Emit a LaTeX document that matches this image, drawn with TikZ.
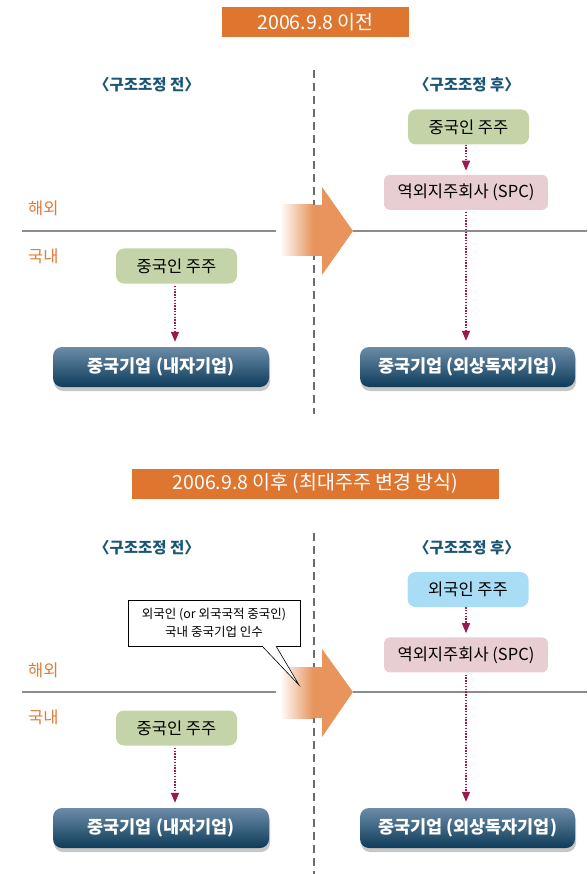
\documentclass[tikz,border=0pt]{standalone}
\usepackage{fontspec}
\setmainfont{Noto Sans CJK KR}
\usepackage{xcolor}
\usepackage{tikz}
\usetikzlibrary{arrows.meta,positioning,shadows}

\definecolor{titleor}{RGB}{222,118,48}
\definecolor{arrowor}{RGB}{232,148,92}
\definecolor{headblue}{RGB}{26,85,118}
\definecolor{regionor}{RGB}{224,123,57}
\definecolor{holdgreen}{RGB}{197,211,168}
\definecolor{holdblue}{RGB}{169,221,245}
\definecolor{spcpink}{RGB}{232,205,211}
\definecolor{firmtop}{RGB}{108,140,168}
\definecolor{firmbot}{RGB}{13,60,90}
\definecolor{linkred}{RGB}{154,26,80}

\begin{document}
\begin{tikzpicture}[x=1pt, y=-1pt,
  title/.style={fill=titleor, text=white, minimum height=30pt, inner sep=1pt, font=\fontsize{19.5}{21}\selectfont},
  header/.style={text=headblue, font=\fontsize{15.5}{17}\selectfont\bfseries},
  region/.style={text=regionor, anchor=west, inner sep=0pt, font=\fontsize{16.5}{18}\selectfont},
  holder/.style={rounded corners=8pt, minimum width=121pt, minimum height=35pt, font=\fontsize{16.5}{18}\selectfont},
  spc/.style={rounded corners=6pt, fill=spcpink, minimum width=164pt, minimum height=35pt, font=\fontsize{16.5}{18}\selectfont},
  firm/.style={rounded corners=9pt, top color=firmtop, bottom color=firmbot, text=white,
    minimum width=216pt, minimum height=40pt, inner sep=1pt, font=\fontsize{17.5}{19}\selectfont\bfseries,
    drop shadow={shadow xshift=1pt, shadow yshift=-4pt, fill=black!22, opacity=1}},
  link/.style={-{Triangle[length=10pt, width=8pt]}, linkred, line width=1.2pt, dash pattern=on 1.4pt off 1.4pt},
  divider/.style={gray!85!black, line width=1.3pt, dash pattern=on 8pt off 5pt},
  border/.style={gray!90, line width=1.2pt},
]
\useasboundingbox (0,0) rectangle (587,874);

\coordinate (axisL) at (175,0);
\coordinate (axisR) at (466,0);

% ---------- 2006.9.8 before ----------
\node[title, minimum width=187pt] (title1) at (315.5,22) {2006.9.8 이전};
\draw[divider] (314,70) -- (314,414);

\node[header] (pre1) at (147,85) {〈구조조정 전〉};
\node[header] (post1) at (467,85) {〈구조조정 후〉};

\node[region] (abroad1) at (28,208) {해외};
\node[region] (home1) at (28,256) {국내};

\coordinate (lineL1) at (22,231);
\coordinate (lineR1) at (587,231);
\draw[border] (lineL1) -- (276,231);
\draw[border] (353,231) -- (lineR1);

% shift arrow
\fill[arrowor] (280,205) -- (322,205) -- (322,187) -- (353,231) -- (322,275) -- (322,256) -- (280,256) -- cycle;
\shade[left color=white, right color=arrowor] (280,205) rectangle (313,256);

% before
\node[holder, fill=holdgreen] (cnholder1) at (176.5,266) {중국인 주주};
\node[firm] (domfirm1) at (161,367) {중국기업 (내자기업)};
\draw[link, shorten <=2pt, shorten >=5pt] (cnholder1.south -| axisL) -- (domfirm1.north -| axisL);

% after
\node[holder, fill=holdgreen] (cnholder2) at (468.5,127) {중국인 주주};
\node[spc, below=30pt of cnholder2, xshift=-2.5pt] (spc1) {역외지주회사 (SPC)};
\node[firm, minimum width=215pt] (wofe1) at (467.5,367) {중국기업 (외상독자기업)};
\draw[link, shorten >=4pt] (cnholder2.south -| axisR) -- (spc1.north);
\draw[link, shorten <=2pt, shorten >=6pt] (spc1.south) -- (wofe1.north -| axisR);

% ---------- 2006.9.8 after ----------
\node[title, minimum width=367pt] (title2) at (315.5,483.5) {2006.9.8 이후 (최대주주 변경 방식)};
\draw[divider] (314,533) -- (314,874);

\node[header] (pre2) at (147,548) {〈구조조정 전〉};
\node[header] (post2) at (467,548) {〈구조조정 후〉};

\node[region] (abroad2) at (28,670) {해외};
\node[region] (home2) at (28,717) {국내};

\coordinate (lineL2) at (22,692);
\coordinate (lineR2) at (587,692);
\draw[border] (lineL2) -- (276,692);
\draw[border] (353,692) -- (lineR2);

% shift arrow
\fill[arrowor] (280,667) -- (322,667) -- (322,649) -- (353,692) -- (322,737) -- (322,718) -- (280,718) -- cycle;
\shade[left color=white, right color=arrowor] (280,667) rectangle (313,718);

% takeover note
\node[draw, fill=white, line width=0.6pt, minimum width=172pt, minimum height=46pt, align=center, inner sep=1pt,
  font=\fontsize{12.5}{18}\selectfont] (note) at (214,623) {외국인 (or 외국국적 중국인)\\국내 중국기업 인수};
\coordinate (notetip) at (299,685);
\fill[white] (262,645.5) -- (notetip) -- (276,645.5) -- cycle;
\draw[line width=0.6pt] (262,646) -- (notetip) -- (276,646);

% before
\node[holder, fill=holdgreen] (cnholder3) at (176.5,728) {중국인 주주};
\node[firm] (domfirm2) at (161,828) {중국기업 (내자기업)};
\draw[link, shorten <=2pt, shorten >=5pt] (cnholder3.south -| axisL) -- (domfirm2.north -| axisL);

% after
\node[holder, fill=holdblue] (frholder) at (468,589.5) {외국인 주주};
\node[spc, below=30pt of frholder, xshift=-2pt] (spc2) {역외지주회사 (SPC)};
\node[firm, minimum width=215pt] (wofe2) at (467.5,828) {중국기업 (외상독자기업)};
\draw[link, shorten >=4pt] (frholder.south -| axisR) -- (spc2.north);
\draw[link, shorten <=2pt, shorten >=6pt] (spc2.south) -- (wofe2.north -| axisR);

\end{tikzpicture}
\end{document}
